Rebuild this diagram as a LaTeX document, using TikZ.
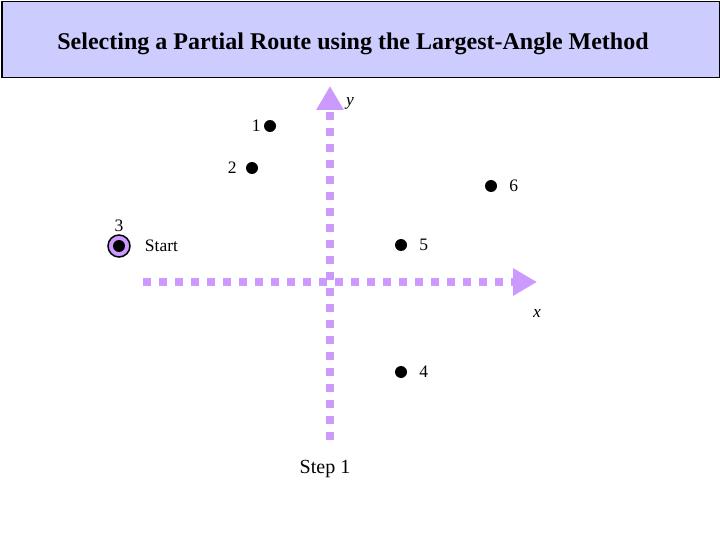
\documentclass[tikz,border=0pt]{standalone}
\usepackage{fontspec}
\setmainfont{Liberation Serif}
\usepackage{tikz}
\usetikzlibrary{positioning, arrows.meta}
\definecolor{axisPurple}{RGB}{204, 153, 255}
\definecolor{titleLav}{RGB}{204, 204, 255}

\begin{document}
\begin{tikzpicture}[
    x=1pt, y=-1pt,
    pointdot/.style={circle, fill=black, inner sep=0pt, minimum size=12pt},
    startring/.style={circle, draw=black, line width=1.5pt, fill=axisPurple,
                      inner sep=0pt, minimum size=22pt},
    ptlabel/.style={font=\fontsize{17.5}{20}\selectfont, inner sep=1pt},
    axisline/.style={axisPurple, line width=8pt, dash pattern=on 8pt off 8pt,
                     -{Triangle[width=26pt, length=24pt]}},
  ]
    \useasboundingbox (0,0) rectangle (720,540);

    % title bar
    \node[draw=black, line width=1.5pt, fill=titleLav, minimum width=718pt,
          minimum height=76pt, anchor=north west] (title) at (1,1) {};
    \node[font=\fontsize{24}{28}\selectfont\bfseries] (titletext) at (353,44)
         {Selecting a Partial Route using the Largest-Angle Method};

    % axes
    \coordinate (ybot) at (330,440);
    \coordinate (ytop) at (330,86);
    \coordinate (xleft) at (143,282);
    \coordinate (xright) at (537,282);
    \draw[axisline] (xleft) -- (xright);
    \draw[axisline] (ybot) -- (ytop);
    \node[ptlabel, font=\fontsize{17.5}{20}\selectfont\itshape] (ylab) at (350,103) {y};
    \node[ptlabel, font=\fontsize{17.5}{20}\selectfont\itshape] (xlab) at (537,313) {x};

    % points
    \node[pointdot] (p1) at (270,126) {};
    \node[pointdot] (p2) at (252,168) {};
    \node[pointdot] (p6) at (491,186) {};
    \node[pointdot] (p5) at (401,245) {};
    \node[pointdot] (p4) at (401,372) {};
    \node[startring] (p3) at (119,246) {};
    \node[pointdot] (p3dot) at (p3) {};

    \node[ptlabel, left=2pt of p1] (l1) {1};
    \node[ptlabel, left=8pt of p2] (l2) {2};
    \node[ptlabel, right=11pt of p6] (l6) {6};
    \node[ptlabel, right=11pt of p5] (l5) {5};
    \node[ptlabel, right=11pt of p4] (l4) {4};
    \node[ptlabel, above=1pt of p3] (l3) {3};
    \node[ptlabel, right=13pt of p3] (start) {Start};

    \node[ptlabel, font=\fontsize{20}{24}\selectfont] (step) at (325,469) {Step 1};
  \end{tikzpicture}
\end{document}
